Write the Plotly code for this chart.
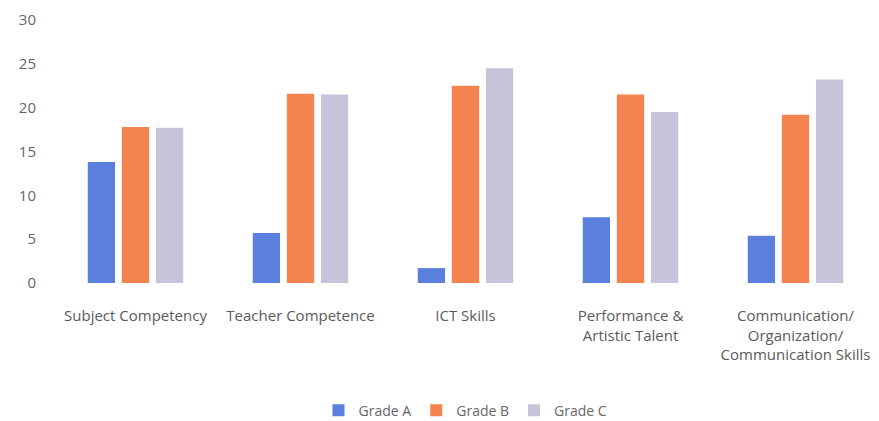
import plotly.graph_objects as go

categories = ["Subject Competency", "Teacher Competence", "ICT Skills",
              "Performance &<br>Artistic Talent",
              "Communication/<br>Organization/<br>Communication Skills"]
grade_a = [13.8, 5.7, 1.7, 7.5, 5.4]
grade_b = [17.8, 21.6, 22.5, 21.5, 19.2]
grade_c = [17.7, 21.5, 24.5, 19.5, 23.2]
y_ticks = [0, 5, 10, 15, 20, 25, 30]

series = [("Grade A", grade_a, "#5a7fdc"),
          ("Grade B", grade_b, "#f5834f"),
          ("Grade C", grade_c, "#c6c4da")]

fig = go.Figure()
for name, vals, col in series:
    fig.add_trace(go.Bar(name=name, x=categories, y=vals, marker_color=col,
                         marker_line_width=0))

fig.update_layout(
    width=879, height=421,
    margin=dict(l=45, r=9, t=12, b=146, autoexpand=False),
    paper_bgcolor="white", plot_bgcolor="white",
    barmode="group", bargap=0.38, bargroupgap=0.2,
    font=dict(family="Open Sans, Liberation Sans, sans-serif", color="#5a5a5a", size=15),
    showlegend=True,
    legend=dict(orientation="h", x=0.5, xanchor="center", y=-0.485, yanchor="middle",
                font=dict(size=14, color="#666666"), itemwidth=30, traceorder="normal"),
    xaxis=dict(showline=False, showgrid=False, ticks="", tickangle=0, automargin=False,
               ticklabelstandoff=22, tickfont=dict(size=15, color="#5a5a5a")),
    yaxis=dict(range=[0, 30], tickvals=y_ticks, showgrid=False, zeroline=False,
               showline=False, ticks="", tickfont=dict(size=15, color="#666666"),
               automargin=False, ticklabelstandoff=16),
)

fig.write_html("out.html")
